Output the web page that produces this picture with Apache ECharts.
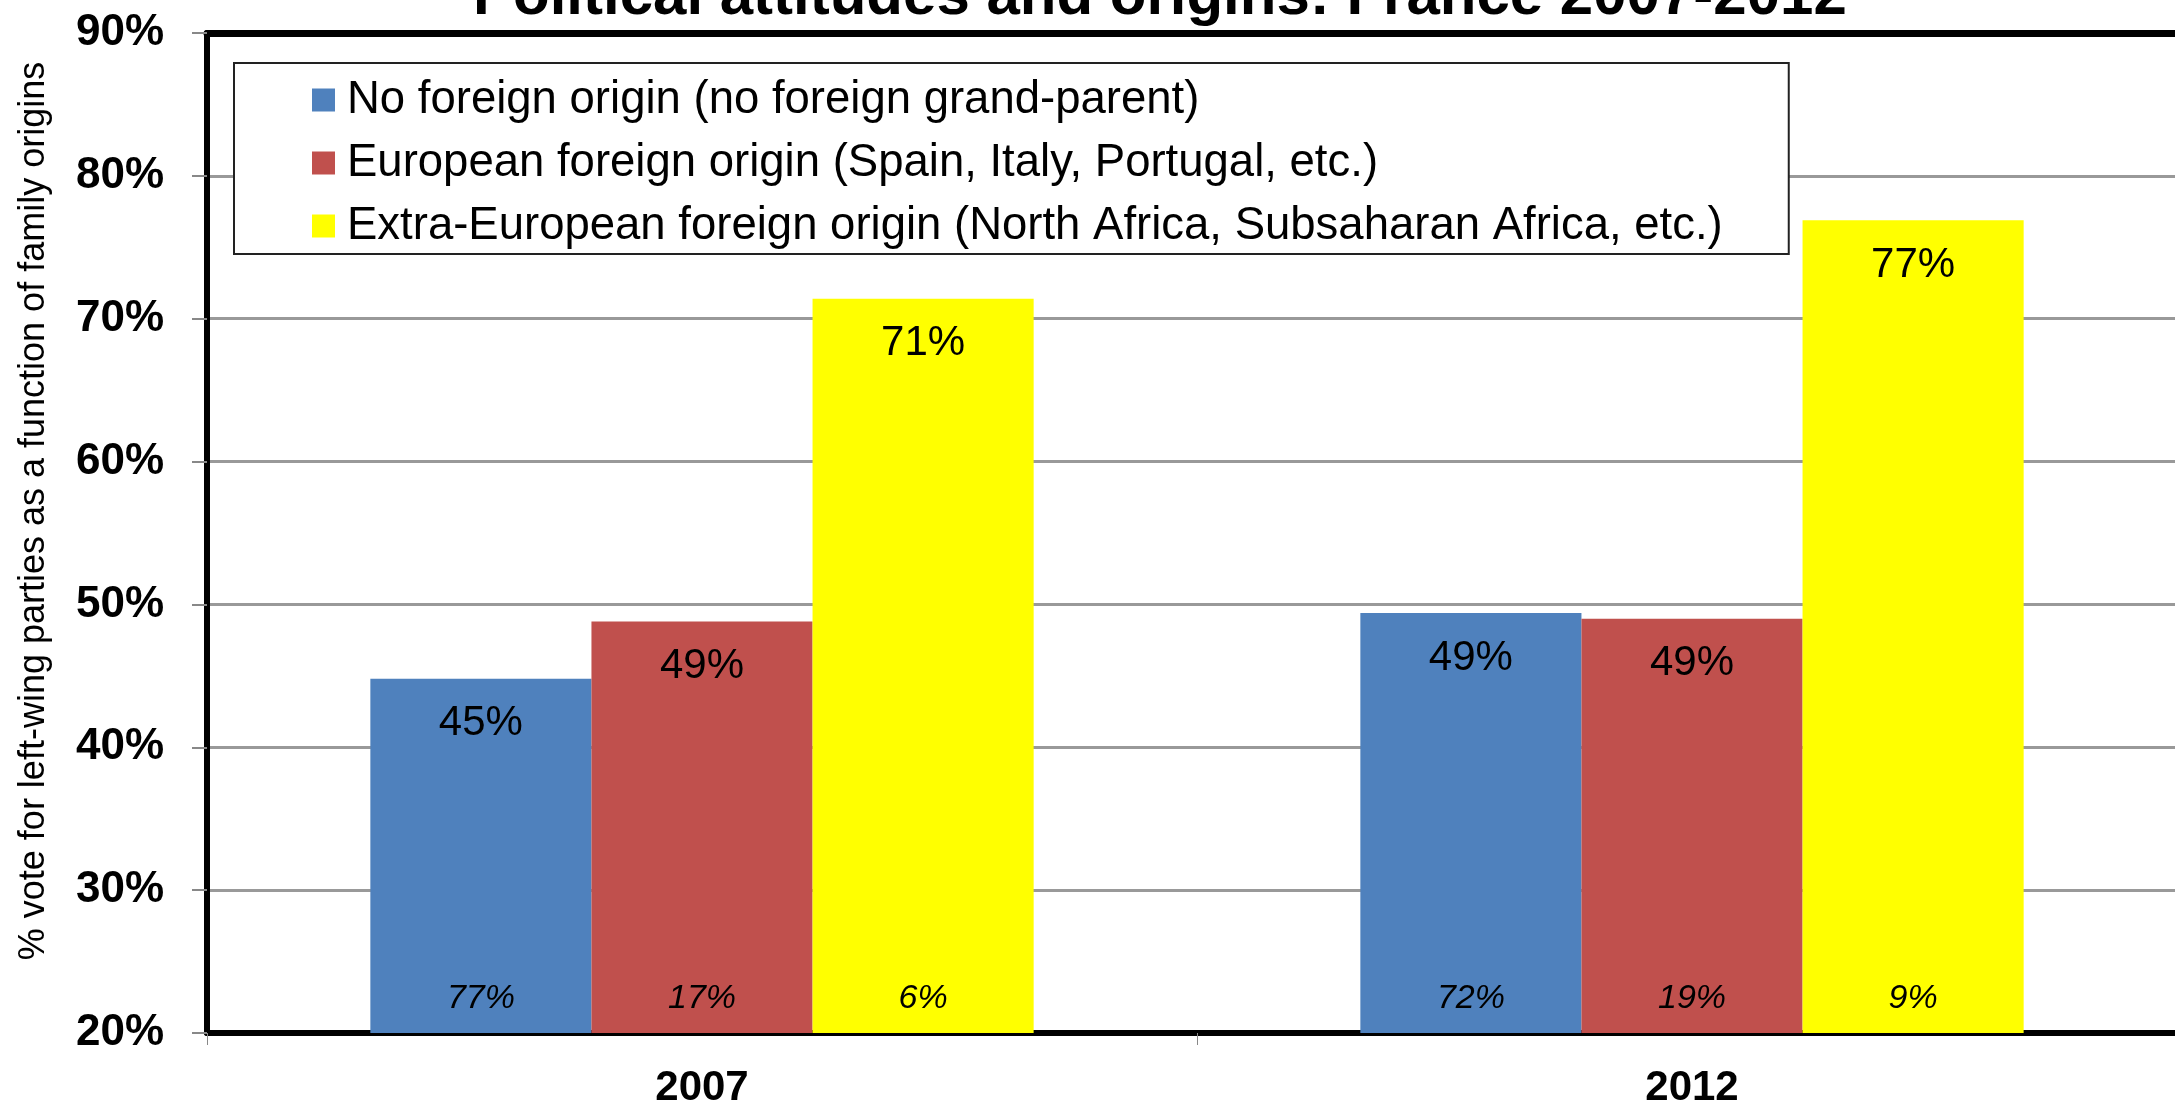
<!DOCTYPE html>
<html>
<head>
<meta charset="utf-8">
<title>Political attitudes and origins: France 2007-2012</title>
<script src="https://cdn.jsdelivr.net/npm/echarts@6/dist/echarts.min.js"></script>
<style>
  html, body { margin: 0; padding: 0; background: #fff; }
  #chart { width: 2175px; height: 1102px; }
</style>
</head>
<body>
<div id="chart"></div>
<script>
// data
var years = ["2007", "2012"];
var seriesNames = [
  "No foreign origin (no foreign grand-parent)",
  "European foreign origin (Spain, Italy, Portugal, etc.)",
  "Extra-European foreign origin (North Africa, Subsaharan Africa, etc.)"
];
// % vote for left-wing parties (bar heights)
var voteNoForeign = [44.8, 49.4];
var voteEuropean = [48.8, 49.0];
var voteExtraEuropean = [71.4, 76.9];
// share of the population in each group (italic labels at bar feet)
var shareNoForeign = [77, 72];
var shareEuropean = [17, 19];
var shareExtraEuropean = [6, 9];
var yTicks = [20, 30, 40, 50, 60, 70, 80, 90];

var FONT = 'Arial, "Liberation Sans", sans-serif';
var colors = ["#4F81BD", "#C0504D", "#FFFF00"];

function makeSeries(name, votes, shares, color) {
  return {
    name: name,
    type: "bar",
    data: votes,
    barGap: 0,
    barCategoryGap: "33%",
    itemStyle: { color: color },
    label: {
      show: true,
      position: "insideTop",
      distance: 24,
      color: "#000",
      fontFamily: FONT,
      fontSize: 42,
      formatter: function (p) { return Math.round(p.value) + "%"; }
    },
    markPoint: {
      symbol: "rect",
      symbolSize: 1,
      silent: true,
      itemStyle: { color: "transparent" },
      label: {
        show: true,
        position: "inside",
        offset: [0, -34],
        color: "#000",
        fontFamily: FONT,
        fontStyle: "italic",
        fontSize: 34,
        formatter: "{c}%"
      },
      data: years.map(function (y, i) {
        return { coord: [y, yTicks[0]], value: shares[i] };
      })
    }
  };
}

var chart = echarts.init(document.getElementById("chart"));
chart.setOption({
  animation: false,
  backgroundColor: "#fff",
  title: {
    text: "Political attitudes and origins: France 2007-2012",
    left: 468,
    top: -38,
    textStyle: { fontFamily: FONT, fontWeight: "bold", fontSize: 60, color: "#000" }
  },
  legend: {
    orient: "vertical",
    left: 234,
    top: 63,
    padding: [14, 66, 5, 78],
    itemGap: 17,
    itemWidth: 23,
    itemHeight: 23,
    icon: "rect",
    backgroundColor: "#fff",
    borderColor: "#222",
    borderWidth: 2,
    borderRadius: 0,
    data: seriesNames,
    textStyle: {
      fontFamily: FONT,
      fontSize: 45.5,
      lineHeight: 45,
      color: "#000",
      padding: [0, 0, 0, 7]
    }
  },
  grid: {
    left: 207,
    top: 33,
    width: 1980,
    bottom: 69,
    show: false,
    outerBoundsMode: "none"
  },
  xAxis: [{
    type: "category",
    data: years,
    axisLine: { show: true, lineStyle: { color: "#000", width: 6 } },
    axisTick: { show: true, alignWithLabel: false, length: 12, lineStyle: { color: "#888", width: 1 } },
    axisLabel: { margin: 34, fontFamily: FONT, fontWeight: "bold", fontSize: 42, color: "#000" },
    splitLine: { show: false }
  }, {
    // top frame line of the plot area
    type: "category",
    position: "top",
    data: years,
    axisLine: { show: true, lineStyle: { color: "#000", width: 7 } },
    axisTick: { show: false },
    axisLabel: { show: false },
    splitLine: { show: false }
  }],
  yAxis: {
    type: "value",
    min: yTicks[0],
    max: yTicks[yTicks.length - 1],
    interval: 10,
    name: "% vote for left-wing parties as a function of family origins",
    nameLocation: "middle",
    nameGap: 155,
    nameTextStyle: { fontFamily: FONT, fontSize: 36, color: "#000", padding: [0, 0, 0, 44] },
    axisLine: { show: true, lineStyle: { color: "#000", width: 6 } },
    axisTick: { show: true, length: 15, lineStyle: { color: "#888", width: 2 } },
    axisLabel: { margin: 43, fontFamily: FONT, fontWeight: "bold", fontSize: 44, color: "#000", formatter: "{value}%" },
    splitLine: { show: true, showMinLine: false, showMaxLine: false, lineStyle: { color: "#999", width: 3 } }
  },
  series: [
    makeSeries(seriesNames[0], voteNoForeign, shareNoForeign, colors[0]),
    makeSeries(seriesNames[1], voteEuropean, shareEuropean, colors[1]),
    makeSeries(seriesNames[2], voteExtraEuropean, shareExtraEuropean, colors[2])
  ]
});
</script>
</body>
</html>
